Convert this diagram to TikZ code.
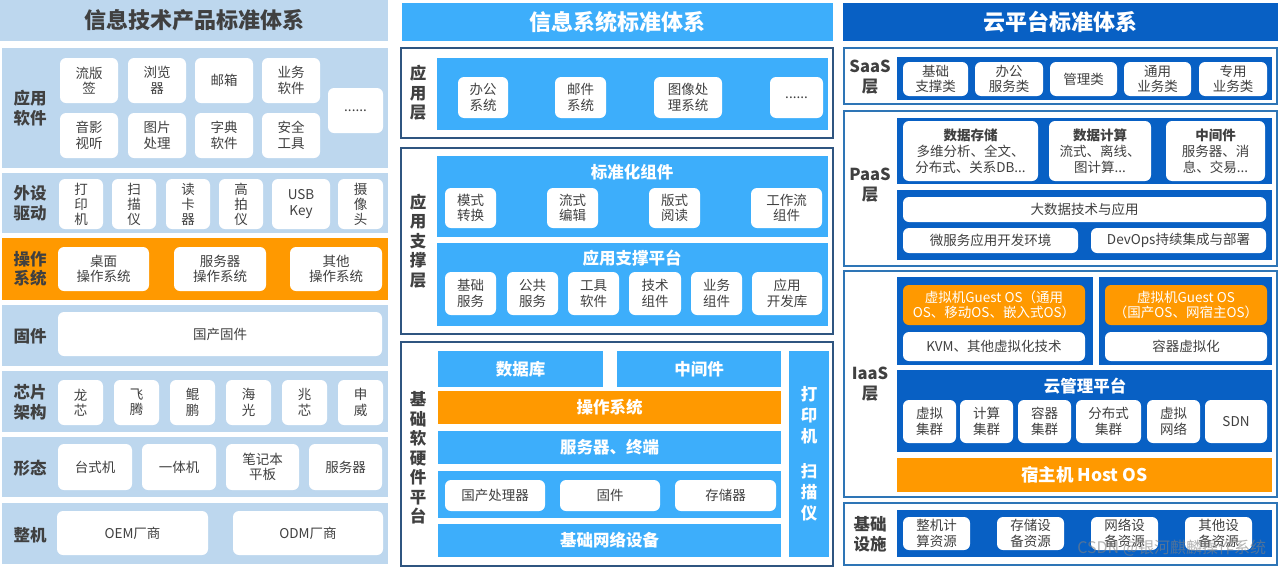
\documentclass[tikz,border=0pt]{standalone}
\usepackage{fontspec}
\setmainfont{Noto Sans CJK SC}
\definecolor{lb}{HTML}{BDD7EE}
\definecolor{og}{HTML}{FF9900}
\definecolor{mb}{HTML}{3DAEFB}
\definecolor{db}{HTML}{0860C4}
\definecolor{tx}{HTML}{404040}
\definecolor{bd1}{HTML}{2F5580}
\definecolor{bd2}{HTML}{2E75B6}
\newcommand\B[7]{\node[#1,minimum width={(#5)-(#3)},minimum height={(#6)-(#4)}] (#2) at ({((#3)+(#5))/2},{((#4)+(#6))/2}) {#7};}
\tikzset{
 base/.style={inner sep=0pt,outer sep=0pt,align=center},
 fs/.style={font=\fontsize{13.5}{15.5}\selectfont},
 lab/.style={base,text=tx,font=\fontsize{16.5}{19.5}\selectfont\bfseries},
 wb/.style={base,fs,fill=white,rounded corners=6pt,text=tx},
 lbg/.style={base,fill=lb},
 obg/.style={base,fill=og},
 mbg/.style={base,fill=mb,text=white,font=\fontsize{16.5}{19}\selectfont\bfseries},
 dbg/.style={base,fill=db,text=white,font=\fontsize{16.5}{19}\selectfont\bfseries},
 ob/.style={base,fill=og,rounded corners=6pt,text=white,fs},
 p1/.style={base,draw=bd1,line width=1.2pt,fill=white},
 p2/.style={base,draw=bd2,line width=1.4pt,fill=white},
 ttl/.style={font=\fontsize{22}{25}\selectfont\bfseries},
}
\begin{document}
\begin{tikzpicture}[x=1pt,y=-1pt]
\useasboundingbox (0,0) rectangle (1280,568);
% ---------- left ----------
\B{lbg,text=tx,ttl}{lt}{0}{0}{388}{41}{信息技术产品标准体系}
\B{lbg}{r1}{2}{48}{388}{168}{}
\node[lab] (l1) at (30,108) {应用\\软件};
\B{wb}{a1}{60}{58}{118}{103}{流版\\签}
\B{wb}{a2}{128}{58}{186}{103}{浏览\\器}
\B{wb}{a3}{195}{58}{253}{103}{邮箱}
\B{wb}{a4}{262}{58}{320}{103}{业务\\软件}
\B{wb}{a5}{60}{113}{118}{158}{音影\\视听}
\B{wb}{a6}{128}{113}{186}{158}{图片\\处理}
\B{wb}{a7}{195}{113}{253}{158}{字典\\软件}
\B{wb}{a8}{262}{113}{320}{158}{安全\\工具}
\B{wb}{a9}{328}{88}{383}{133}{......}
\B{lbg}{r2}{2}{173}{388}{233}{}
\node[lab] (l2) at (30,203) {外设\\驱动};
\B{wb,font=\fontsize{13.5}{15}\selectfont}{b1}{59}{179}{103}{229}{打\\印\\机}
\B{wb,font=\fontsize{13.5}{15}\selectfont}{b2}{112}{179}{156}{229}{扫\\描\\仪}
\B{wb,font=\fontsize{13.5}{15}\selectfont}{b3}{166}{179}{210}{229}{读\\卡\\器}
\B{wb,font=\fontsize{13.5}{15}\selectfont}{b4}{219}{179}{263}{229}{高\\拍\\仪}
\B{wb}{b5}{272}{179}{330}{229}{USB\\Key}
\B{wb,font=\fontsize{13.5}{15}\selectfont}{b6}{338}{179}{383}{229}{摄\\像\\头}
\B{obg}{r3}{2}{238}{388}{300}{}
\node[lab] (l3) at (30,269) {操作\\系统};
\B{wb}{c1}{58}{247}{149}{291}{桌面\\操作系统}
\B{wb}{c2}{174}{247}{266}{291}{服务器\\操作系统}
\B{wb}{c3}{290}{247}{382}{291}{其他\\操作系统}
\B{lbg}{r4}{2}{305}{388}{366}{}
\node[lab] (l4) at (30,336) {固件};
\B{wb}{d1}{58}{312}{382}{356}{国产固件}
\B{lbg}{r5}{2}{371}{388}{432}{}
\node[lab] (l5) at (30,402) {芯片\\架构};
\B{wb}{e1}{58}{380}{103}{425}{龙\\芯}
\B{wb}{e2}{114}{380}{159}{425}{飞\\腾}
\B{wb}{e3}{170}{380}{215}{425}{鲲\\鹏}
\B{wb}{e4}{226}{380}{271}{425}{海\\光}
\B{wb}{e5}{282}{380}{327}{425}{兆\\芯}
\B{wb}{e6}{338}{380}{383}{425}{申\\威}
\B{lbg}{r6}{2}{437}{388}{497}{}
\node[lab] (l6) at (30,468) {形态};
\B{wb}{f1}{58}{444}{132}{490}{台式机}
\B{wb}{f2}{142}{444}{216}{490}{一体机}
\B{wb}{f3}{226}{444}{299}{490}{笔记本\\平板}
\B{wb}{f4}{309}{444}{382}{490}{服务器}
\B{lbg}{r7}{2}{503}{388}{564}{}
\node[lab] (l7) at (30,535) {整机};
\B{wb}{g1}{57}{511}{208}{555}{OEM厂商}
\B{wb}{g2}{233}{511}{383}{555}{ODM厂商}
% ---------- middle ----------
\B{mbg,ttl}{mt}{402}{3}{833}{41}{信息系统标准体系}
\B{p1}{m1}{401}{48}{833}{138}{}
\node[lab] (ml1) at (418,93) {应\\用\\层};
\B{mbg}{m1i}{437}{58}{828}{130}{}
\B{wb}{h1}{458}{77}{508}{118}{办公\\系统}
\B{wb}{h2}{555}{77}{606}{118}{邮件\\系统}
\B{wb}{h3}{654}{77}{722}{118}{图像处\\理系统}
\B{wb}{h4}{770}{77}{823}{118}{......}
\B{p1}{m2}{401}{148}{833}{334}{}
\node[lab] (ml2) at (418,241) {应\\用\\支\\撑\\层};
\B{mbg}{m2a}{437}{156}{828}{237}{}
\node[base,text=white,font=\fontsize{16.5}{19}\selectfont\bfseries] (m2at) at (632,172) {标准化组件};
\B{wb}{i1}{445}{188}{496}{228}{模式\\转换}
\B{wb}{i2}{547}{188}{598}{228}{流式\\编辑}
\B{wb}{i3}{649}{188}{700}{228}{版式\\阅读}
\B{wb}{i4}{751}{188}{822}{228}{工作流\\组件}
\B{mbg}{m2b}{437}{243}{828}{326}{}
\node[base,text=white,font=\fontsize{16.5}{19}\selectfont\bfseries] (m2bt) at (632,258) {应用支撑平台};
\B{wb}{j1}{445}{272}{496}{315}{基础\\服务}
\B{wb}{j2}{507}{272}{558}{315}{公共\\服务}
\B{wb}{j3}{568}{272}{619}{315}{工具\\软件}
\B{wb}{j4}{629}{272}{681}{315}{技术\\组件}
\B{wb}{j5}{691}{272}{742}{315}{业务\\组件}
\B{wb}{j6}{752}{272}{822}{315}{应用\\开发库}
\B{p1}{m3}{401}{342}{833}{566}{}
\node[lab,font=\fontsize{16.5}{19.5}\selectfont\bfseries] (ml3) at (418,458) {基\\础\\软\\硬\\件\\平\\台};
\B{mbg}{k1}{438}{351}{603}{387}{数据库}
\B{mbg}{k2}{617}{351}{781}{387}{中间件}
\B{obg,text=white,font=\fontsize{16.5}{19}\selectfont\bfseries}{k3}{438}{391}{781}{424}{操作系统}
\B{mbg}{k4}{438}{431}{781}{464}{服务器、终端}
\B{mbg}{k5}{438}{471}{781}{518}{}
\B{wb}{k51}{445}{480}{545}{511}{国产处理器}
\B{wb}{k52}{560}{480}{660}{511}{固件}
\B{wb}{k53}{675}{480}{776}{511}{存储器}
\B{mbg}{k6}{438}{524}{781}{557}{基础网络设备}
\B{mbg,font=\fontsize{16.5}{21}\selectfont\bfseries}{k7}{789}{351}{829}{557}{打\\印\\机\\[14pt]扫\\描\\仪}
% ---------- right ----------
\B{dbg,ttl}{rt}{843}{3}{1278}{41}{云平台标准体系}
\B{p2}{s1}{844}{48}{1277}{104}{}
\node[lab] (sl1) at (870,77) {SaaS\\层};
\B{dbg}{s1i}{897}{57}{1272}{100}{}
\B{wb}{t1}{903}{62}{968}{96}{基础\\支撑类}
\B{wb}{t2}{975}{62}{1043}{96}{办公\\服务类}
\B{wb}{t3}{1050}{62}{1117}{96}{管理类}
\B{wb}{t4}{1124}{62}{1191}{96}{通用\\业务类}
\B{wb}{t5}{1199}{62}{1267}{96}{专用\\业务类}
\B{p2}{s2}{844}{111}{1277}{266}{}
\node[lab] (sl2) at (870,185) {PaaS\\层};
\B{dbg}{s2a}{897}{118}{1272}{184}{}
\B{wb,font=\fontsize{13.5}{16}\selectfont}{u1}{903}{121}{1038}{181}{\textbf{数据存储}\\多维分析、全文、\\分布式、关系DB...}
\B{wb,font=\fontsize{13.5}{16}\selectfont}{u2}{1049}{121}{1151}{181}{\textbf{数据计算}\\流式、离线、\\图计算...}
\B{wb,font=\fontsize{13.5}{16}\selectfont}{u3}{1166}{121}{1265}{181}{\textbf{中间件}\\服务器、消\\息、交易...}
\B{dbg}{s2b}{897}{190}{1272}{260}{}
\B{wb}{u4}{903}{197}{1266}{222}{大数据技术与应用}
\B{wb}{u5}{903}{228}{1078}{253}{微服务应用开发环境}
\B{wb}{u6}{1091}{228}{1266}{253}{DevOps持续集成与部署}
\B{p2}{s3}{844}{271}{1277}{497}{}
\node[lab] (sl3) at (870,384) {IaaS\\层};
\B{dbg}{s3a}{897}{277}{1093}{365}{}
\B{ob}{v1}{903}{285}{1085}{325}{虚拟机Guest OS（通用\\OS、移动OS、嵌入式OS）}
\B{wb}{v2}{903}{332}{1085}{361}{KVM、其他虚拟化技术}
\B{dbg}{s3b}{1099}{277}{1272}{365}{}
\B{ob}{v3}{1105}{285}{1267}{325}{虚拟机Guest OS\\（国产OS、网宿主OS）}
\B{wb}{v4}{1105}{332}{1267}{361}{容器虚拟化}
\B{dbg}{s3c}{897}{370}{1272}{452}{}
\node[base,text=white,font=\fontsize{16.5}{19}\selectfont\bfseries] (s3ct) at (1085,386) {云管理平台};
\B{wb}{w1}{903}{400}{956}{443}{虚拟\\集群}
\B{wb}{w2}{960}{400}{1013}{443}{计算\\集群}
\B{wb}{w3}{1018}{400}{1071}{443}{容器\\集群}
\B{wb}{w4}{1076}{400}{1141}{443}{分布式\\集群}
\B{wb}{w5}{1147}{400}{1200}{443}{虚拟\\网络}
\B{wb}{w6}{1205}{400}{1267}{443}{SDN}
\B{obg,text=white,font=\fontsize{17.5}{19}\selectfont\bfseries}{w7}{897}{458}{1272}{492}{宿主机 Host OS}
\B{p2}{s4}{844}{503}{1277}{565}{}
\node[lab] (sl4) at (870,534) {基础\\设施};
\B{dbg}{s4i}{897}{510}{1272}{557}{}
\B{wb}{y1}{903}{517}{970}{550}{整机计\\算资源}
\B{wb}{y2}{997}{517}{1064}{550}{存储设\\备资源}
\B{wb}{y3}{1091}{517}{1158}{550}{网络设\\备资源}
\B{wb}{y4}{1185}{517}{1252}{550}{其他设\\备资源}
\node[base,text=gray,opacity=0.6,font=\fontsize{16}{18}\selectfont,anchor=east] (wm) at (1266,548) {CSDN @银河麒麟操作系统};
\end{tikzpicture}
\end{document}
